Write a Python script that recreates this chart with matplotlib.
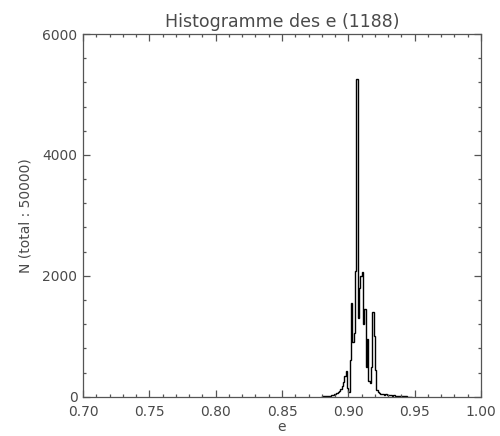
import numpy as np
import matplotlib.pyplot as plt
from matplotlib.ticker import MultipleLocator

# histogram of e, bins of 0.001 from 0.880
bin_start = 0.880
bin_width = 0.001
counts = [5, 5, 10, 8, 12, 15, 20, 25, 30, 40,
          50, 60, 80, 100, 130, 180, 250, 350, 420, 150,
          80, 600, 1550, 900, 1050, 2080, 5250, 1300, 1800, 2000,
          2060, 1200, 1450, 500, 950, 260, 220, 500, 1400, 1000,
          450, 120, 80, 60, 50, 45, 40, 35, 40, 30,
          30, 25, 30, 20, 25, 15, 20, 15, 10, 12,
          8, 10, 6, 5, 4, 3, 2, 1]

edges = bin_start + bin_width * np.arange(len(counts) + 1)

txt = '#4a4a4a'
plt.rcParams['font.family'] = 'DejaVu Sans'

fig = plt.figure(figsize=(5, 4.36), dpi=100)
ax = fig.add_axes([0.166, 0.09, 0.796, 0.832])

ax.stairs(counts, edges, color='black', linewidth=1.0)

ax.set_xlim(0.70, 1.00)
ax.set_ylim(0, 6000)
ax.xaxis.set_major_locator(MultipleLocator(0.05))
ax.xaxis.set_minor_locator(MultipleLocator(0.01))
ax.yaxis.set_major_locator(MultipleLocator(2000))
ax.yaxis.set_minor_locator(MultipleLocator(400))
ax.xaxis.set_major_formatter(plt.FormatStrFormatter('%.2f'))

ax.tick_params(which='both', direction='in', top=True, right=True,
               colors='#555555', labelcolor=txt, labelsize=10, width=0.9)
ax.tick_params(which='major', length=5)
ax.tick_params(axis='x', which='major', pad=6)
ax.tick_params(axis='y', which='major', pad=4)
ax.tick_params(which='minor', length=2.5)
for s in ax.spines.values():
    s.set_color('#555555')
    s.set_linewidth(0.9)

ax.set_title('Histogramme des e (1188)', fontsize=12.5, color=txt, pad=5)
ax.set_xlabel('e', fontsize=10, color=txt, labelpad=1)
ax.set_ylabel('N (total : 50000)', fontsize=10, color=txt, labelpad=7)

fig.savefig('out.png', dpi=100)
